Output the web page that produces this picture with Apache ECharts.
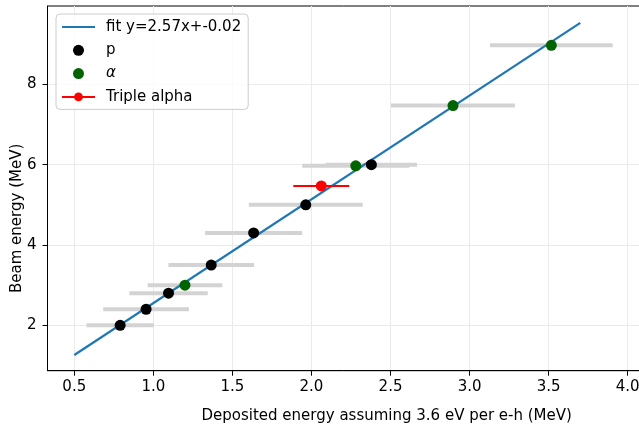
<!DOCTYPE html>
<html><head><meta charset="utf-8">
<script src="https://cdn.jsdelivr.net/npm/echarts@6/dist/echarts.min.js"></script>
<style>html,body{margin:0;padding:0;background:#fff}#c{width:639px;height:424px}</style>
</head><body><div id="c"></div>
<script>
// ---- data ----
const xTicks = [0.5, 1.0, 1.5, 2.0, 2.5, 3.0, 3.5, 4.0, 4.5];
const yTicks = [2, 4, 6, 8];
const fitName = 'fit y=2.57x+-0.02';
const fitX = [0.5, 3.7];
const fitY = [1.26, 9.53];
const pX = [0.790, 0.954, 1.096, 1.366, 1.634, 1.964, 2.379];
const pY = [2.0, 2.4, 2.8, 3.5, 4.3, 5.0, 6.0];
const pErr = [0.213, 0.271, 0.248, 0.271, 0.307, 0.36, 0.288];
const aX = [1.200, 2.280, 2.895, 3.517];
const aY = [3.0, 5.97, 7.47, 8.97];
const aErr = [0.236, 0.338, 0.392, 0.388];
const tX = [2.062];
const tY = [5.47];
const tErr = [0.177];

const FONT = 'DejaVu Sans';
const FS = 15;

function errSeries(name, xs, ys, es, color, width, z) {
  return {
    type: 'custom', name: name, z: z, silent: true,
    data: xs.map((x, i) => [x, ys[i], es[i]]),
    encode: { x: 0, y: 1 },
    renderItem: function (params, api) {
      const x = api.value(0), y = api.value(1), e = api.value(2);
      const a = api.coord([x - e, y]), b = api.coord([x + e, y]);
      return { type: 'line', shape: { x1: a[0], y1: a[1], x2: b[0], y2: b[1] },
               style: { stroke: color, lineWidth: width } };
    }
  };
}

const chart = echarts.init(document.getElementById('c'), null, { renderer: 'canvas' });
chart.setOption({
  animation: false,
  backgroundColor: '#fff',
  textStyle: { fontFamily: FONT },
  grid: { left: 47.5, top: 6, bottom: 53.3, right: -86.9, containLabel: false, outerBoundsMode: 'none',
          show: true, borderColor: '#000', borderWidth: 1 },
  legend: {
    data: [{ name: fitName, itemStyle: { color: 'rgba(0,0,0,0)', opacity: 0 } }, 'p', 'α', 'Triple alpha'],
    orient: 'vertical', left: 56, top: 14,
    itemWidth: 33, itemHeight: 11, itemGap: 8.3,
    padding: [5.5, 7, 5, 5],
    backgroundColor: 'rgba(255,255,255,0.8)', borderColor: '#cccccc', borderWidth: 1, borderRadius: 4,
    textStyle: { fontFamily: FONT, fontSize: FS, color: '#000', lineHeight: 14, padding: [0, 0, 0, 6],
                 rich: { i: { fontStyle: 'italic', fontFamily: FONT, fontSize: FS, color: '#000', lineHeight: 14 } } },
    formatter: function (n) { return n === 'α' ? '{i|α}' : n; }
  },
  xAxis: {
    type: 'value', min: 0.3305, max: 4.621,
    name: 'Deposited energy assuming 3.6 eV per e-h (MeV)', nameLocation: 'middle', nameGap: 38,
    nameMoveOverlap: false,
    nameTextStyle: { fontFamily: FONT, fontSize: FS, color: '#000' },
    axisLine: { show: true, onZero: false, lineStyle: { color: '#000', width: 1 } },
    axisTick: { show: true, length: 5, customValues: xTicks, lineStyle: { color: '#000' } },
    axisLabel: { customValues: xTicks, margin: 9, fontFamily: FONT, fontSize: FS, color: '#000',
                 formatter: v => v.toFixed(1) },
    splitLine: { show: true, lineStyle: { color: '#ebebeb', width: 1 } }
  },
  yAxis: {
    type: 'value', min: 0.870, max: 9.949,
    name: 'Beam energy (MeV)', nameLocation: 'middle', nameGap: 23,
    nameMoveOverlap: false,
    nameTextStyle: { fontFamily: FONT, fontSize: FS, color: '#000', padding: [0, 60, 0, 0] },
    axisLine: { show: true, onZero: false, lineStyle: { color: '#000', width: 1 } },
    axisTick: { show: true, length: 5, customValues: yTicks, lineStyle: { color: '#000' } },
    axisLabel: { customValues: yTicks, margin: 11, fontFamily: FONT, fontSize: FS, color: '#000',
                 formatter: v => String(v) },
    splitLine: { show: true, lineStyle: { color: '#ebebeb', width: 1 } }
  },
  series: [
    errSeries('p error', pX, pY, pErr, '#d3d3d3', 4, 1),
    errSeries('α error', aX, aY, aErr, '#d3d3d3', 4, 1),
    { type: 'line', name: fitName, data: fitX.map((x, i) => [x, fitY[i]]), symbol: 'none', showSymbol: false,
      z: 3, lineStyle: { color: '#1f77b4', width: 2.2 }, itemStyle: { color: '#1f77b4' } },
    { type: 'scatter', name: 'p', data: pX.map((x, i) => [x, pY[i]]), symbol: 'circle', symbolSize: 11,
      z: 5, itemStyle: { color: '#000', opacity: 1 } },
    { type: 'scatter', name: 'α', data: aX.map((x, i) => [x, aY[i]]), symbol: 'circle', symbolSize: 11,
      z: 5, itemStyle: { color: '#006400', opacity: 1 } },
    errSeries('Triple alpha error', tX, tY, tErr, '#ff0000', 2, 4),
    { type: 'line', name: 'Triple alpha', data: tX.map((x, i) => [x, tY[i]]), symbol: 'circle', symbolSize: 11,
      showSymbol: true, z: 6, lineStyle: { color: '#ff0000', width: 2 }, itemStyle: { color: '#ff0000' } }
  ]
});
</script>
</body></html>
